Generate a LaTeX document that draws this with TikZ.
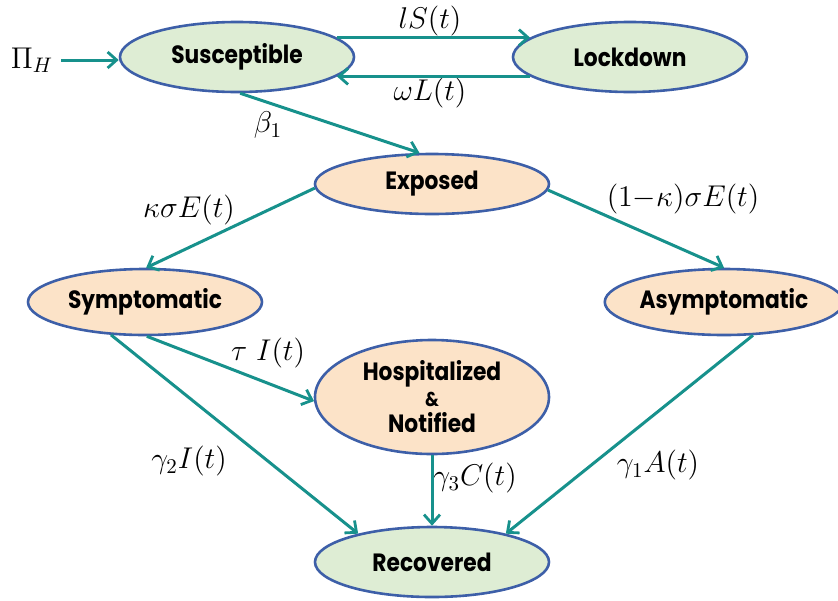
\RequirePackage{fix-cm}
\documentclass[tikz,border=0pt]{standalone}
\usepackage{fontspec}
\newfontfamily\nodefont{Poppins}[FakeStretch=0.87]
\usetikzlibrary{shapes.geometric,arrows.meta}
\definecolor{flowcol}{HTML}{17918C}
\definecolor{bordercol}{HTML}{3D5FA8}
\definecolor{greenfill}{HTML}{DEEDD4}
\definecolor{orangefill}{HTML}{FCE3C8}
\tikzset{
  compart/.style={ellipse, draw=bordercol, line width=1.3pt, inner sep=0pt,
    minimum width=117pt, minimum height=35pt, align=center,
    font=\nodefont\bfseries\fontsize{12.5}{12.5}\selectfont, text=black},
  grn/.style={compart, fill=greenfill},
  org/.style={compart, fill=orangefill},
  flow/.style={draw=flowcol, line width=1.5pt,
    -{Straight Barb[length=4.5pt,width=8pt,line width=1.4pt]}},
  lab/.style={font=\fontsize{15}{18}\selectfont, inner sep=0pt}
}
\begin{document}
\begin{tikzpicture}[x=0.5pt,y=-0.5pt]
\useasboundingbox (0,0) rectangle (838,600);
% compartments
\node[grn] (sus) at (237,57) {Susceptible};
\node[grn] (lock) at (630,57) {Lockdown};
\node[org, minimum height=30pt] (exp) at (432,184) {Exposed};
\node[org, minimum height=33pt] (sym) at (145,302) {Symptomatic};
\node[org, minimum width=113pt, minimum height=33pt] (asym) at (724,302) {Asymptomatic};
\node[org, minimum height=57pt] (hosp) at (432,397) {Hospitalized\\[0.5pt]{\fontsize{10}{10}\selectfont\&}\\[0.5pt]Notified};
\node[grn] (rec) at (432,562) {Recovered};
% labels
\node[lab] (pi) at (32,60) {$\Pi_H$};
\node[lab] (lS) at (430,21) {$lS(t)$};
\node[lab] (wL) at (430,93) {$\omega L(t)$};
\node[lab] (b1) at (268,125) {$\beta_1$};
\node[lab] (kse) at (189,210) {$\kappa\sigma E(t)$};
\node[lab] (oks) at (683,199) {$(1{-}\kappa)\sigma E(t)$};
\node[lab] (tI) at (268,353) {$\tau\ I(t)$};
\node[lab] (g2) at (189,461) {$\gamma_2 I(t)$};
\node[lab] (g3) at (475,478) {$\gamma_3 C(t)$};
\node[lab] (g1) at (658,465) {$\gamma_1 A(t)$};
% flows
\draw[flow] ([xshift=4pt]pi.east) -- (pi.east -| sus.west);
\draw[flow] (sus.11) -- (lock.169);
\draw[flow] (lock.-169) -- (sus.-11);
\draw[flow] (sus.-85) -- (exp.112);
\draw[flow] (exp.182) -- (sym.88);
\draw[flow] (exp.-3) -- (asym.90);
\draw[flow] (sym.-87) -- (hosp.182);
\draw[flow] (sym.-136) -- (rec.159);
\draw[flow] (hosp.south) -- (rec.north);
\draw[flow] (asym.-49) -- (rec.21);
\end{tikzpicture}
\end{document}
